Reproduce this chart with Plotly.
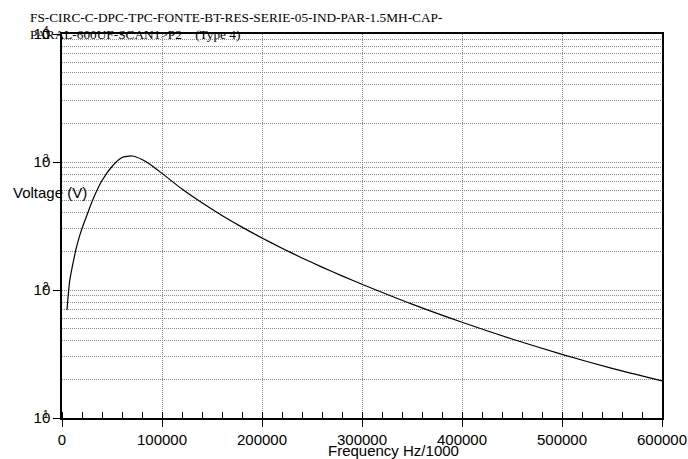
import plotly.graph_objects as go
import math

freq = [5000, 7500, 10000, 15000, 20000, 25000, 30000, 40000, 50000, 60000,
        70000, 80000, 90000, 100000, 120000, 140000, 160000, 180000, 200000,
        220000, 240000, 260000, 280000, 300000, 350000, 400000, 450000, 500000,
        550000, 600000]
voltage = [70, 115, 148, 224, 303, 385, 490, 716, 922, 1085,
           1114, 1045, 935, 815, 615, 480, 382, 310, 255,
           212, 178, 151, 129, 111, 77.6, 56, 41.4, 31.4,
           24.4, 19.5]

xtick_vals = [0, 100000, 200000, 300000, 400000, 500000, 600000]
xtick_text = ["0", "100000", "200000", "300000", "400000", "500000", "600000"]
ytick_vals = [10, 100, 1000, 10000]
ytick_text = ["10", "10", "10", "10"]
ytick_sup = ["1", "2", "3", "4"]
yminor_vals = [m * 10 ** d for d in range(1, 4) for m in range(2, 10)] + [100, 1000]

title1 = "FS-CIRC-C-DPC-TPC-FONTE-BT-RES-SERIE-05-IND-PAR-1.5MH-CAP-"
title2 = "PARAL-600UF-SCAN1>P2\u00a0\u00a0\u00a0\u00a0(Type 4)"

fig = go.Figure()
fig.add_trace(go.Scatter(x=freq, y=voltage, mode="lines",
                         line=dict(color="black", width=1.2, shape="spline", smoothing=0.6),
                         showlegend=False))

sans = "Liberation Sans, Arial, sans-serif"
serif = "Liberation Serif, Times New Roman, serif"
gridc = "#8c8c8c"

fig.update_layout(
    width=688, height=459,
    margin=dict(l=62, r=26, t=34, b=41),
    paper_bgcolor="white", plot_bgcolor="white",
    font=dict(family=sans, size=15, color="black"),
    xaxis=dict(range=[0, 600000], tickvals=xtick_vals, ticktext=xtick_text,
               automargin=False,
               ticks="outside", ticklen=7, tickcolor="black", tickwidth=1,
               showline=True, linecolor="black", linewidth=1.5, mirror=True,
               showgrid=True, gridcolor=gridc, griddash="1px,1px", gridwidth=1,
               zeroline=False,
               minor=dict(dtick=20000, ticks="inside", ticklen=6, tickcolor="black",
                          showgrid=False),
               tickfont=dict(size=15, family=sans)),
    yaxis=dict(type="log", range=[1, 4], tickvals=ytick_vals, ticktext=ytick_text,
               automargin=False,
               ticks="outside", ticklen=7, tickcolor="black", tickwidth=1,
               showline=True, linecolor="black", linewidth=1.5, mirror=True,
               showgrid=False, zeroline=False,
               minor=dict(tickmode="array", tickvals=yminor_vals, showgrid=True,
                          gridcolor=gridc, griddash="1px,1px", gridwidth=1, ticks=""),
               tickfont=dict(size=15, family=sans)),
)

ann = []
for v, s in zip(ytick_vals, ytick_sup):
    ann.append(dict(text=s, xref="paper", yref="y", x=0, y=math.log10(v),
                    xshift=-16, yshift=4, showarrow=False,
                    font=dict(size=10, family=sans, color="black"),
                    xanchor="center", yanchor="middle"))
ann.append(dict(text="Voltage (V)", xref="paper", yref="paper", x=(11 - 62) / 600,
                y=(418 - 192) / 384, xanchor="left", yanchor="middle", showarrow=False,
                font=dict(size=15, family=sans, color="black")))
ann.append(dict(text="Frequency Hz/1000", xref="paper", yref="paper", x=(393 - 62) / 600,
                y=(418 - 450) / 384, xanchor="center", yanchor="middle", showarrow=False,
                font=dict(size=15, family=sans, color="black")))
ann.append(dict(text=title1, xref="paper", yref="paper", x=(28 - 62) / 600,
                y=(418 - 18) / 384, xanchor="left", yanchor="middle", showarrow=False,
                font=dict(size=13.3, family=serif, color="black")))
ann.append(dict(text=title2, xref="paper", yref="paper", x=(28 - 62) / 600,
                y=(418 - 34) / 384, xanchor="left", yanchor="middle", showarrow=False,
                font=dict(size=13.3, family=serif, color="black")))
fig.update_layout(annotations=ann)

fig.write_html("out.html", config={"displayModeBar": False},
               post_script="document.body.style.margin='0';")
